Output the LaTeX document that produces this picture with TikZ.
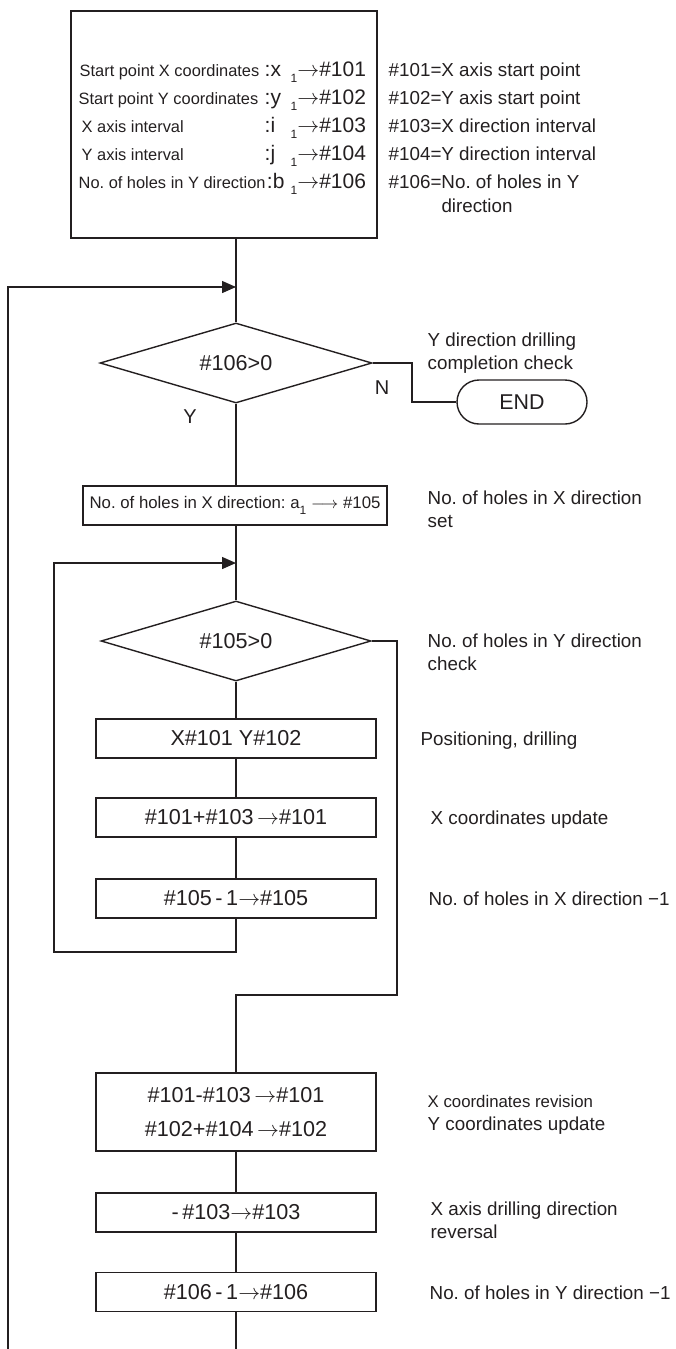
\documentclass[tikz,border=0pt]{standalone}
\usepackage{fontspec}
\setmainfont{Liberation Sans}
\usetikzlibrary{shapes.geometric,arrows.meta}
\definecolor{ink}{RGB}{35,31,32}
\newcommand\subone{\raisebox{-0.6ex}{\fontsize{6}{6}\selectfont 1}}
\newcommand\ra{$\rightarrow$}
\frenchspacing
\begin{document}
\begin{tikzpicture}[x=0.5pt,y=-0.5pt,line width=0.7pt,draw=ink,text=ink,
  box/.style={draw,rectangle,inner sep=0pt,minimum width=140pt,minimum height=19.5pt,font=\fontsize{10.8}{17}\selectfont,align=center},
  dec/.style={draw,diamond,aspect=3.4,inner sep=0pt,minimum width=136pt,minimum height=40pt,font=\fontsize{10.8}{13}\selectfont},
  tl/.style={anchor=base west,inner sep=0pt,font=\fontsize{8.2}{10}\selectfont},
  tv/.style={anchor=base west,inner sep=0pt,font=\fontsize{10.5}{12}\selectfont},
  tr/.style={anchor=base west,inner sep=0pt,font=\fontsize{9.4}{11}\selectfont},
  yn/.style={inner sep=0pt,font=\fontsize{10}{12}\selectfont},
  arr/.style={-{Triangle[length=7pt,width=6pt]}}]
\useasboundingbox (0,0) rectangle (675,1349);

% initial settings box
\node[box,minimum width=153pt,minimum height=113.5pt] (init) at (224,124.5) {};
\node[tl] (l1) at (79,76) {Start point X coordinates};
\node[tl] (l2) at (78,104) {Start point Y coordinates};
\node[tl] (l3) at (81,132) {X axis interval};
\node[tl] (l4) at (81,160) {Y axis interval};
\node[tl] (l5) at (78,188) {No. of holes in Y direction};
\node[tv] (c1) at (264,76) {:x};
\node[tv] (c2) at (264,104) {:y};
\node[tv] (c3) at (264,132) {:i};
\node[tv] (c4) at (264,160) {:j};
\node[tv] (c5) at (l5.base east) {:b};
\node[tv] (v1) at (290,76) {\subone\ra\#101};
\node[tv] (v2) at (290,104) {\subone\ra\#102};
\node[tv] (v3) at (290,132) {\subone\ra\#103};
\node[tv] (v4) at (290,160) {\subone\ra\#104};
\node[tv] (v5) at (290,188) {\subone\ra\#106};
\node[tr] (r1) at (388,76) {\#101=X axis start point};
\node[tr] (r2) at (388,104) {\#102=Y axis start point};
\node[tr] (r3) at (388,132) {\#103=X direction interval};
\node[tr] (r4) at (388,160) {\#104=Y direction interval};
\node[tr] (r5) at (388,188) {\#106=No. of holes in Y};
\node[tr] (r6) at (388,212) {\hphantom{\#106=}direction};

% flow nodes
\node[dec] (d1) at (236,363) {\#106>0};
\node[draw,rounded corners=11pt,minimum width=65pt,minimum height=22pt,inner sep=0pt,font=\fontsize{10.7}{13}\selectfont] (end) at (522,402) {END};
\node[box,minimum width=152pt,font=\fontsize{8.4}{10}\selectfont] (setx) at (235,505.5) {No. of holes in X direction: a\subone{} $\longrightarrow$ \#105};
\node[dec,minimum width=135pt] (d2) at (236,641) {\#105>0};
\node[box] (pos) at (236,738.5) {X\#101 Y\#102};
\node[box] (upd) at (236,817.5) {\#101+\#103\,\ra\#101};
\node[box] (dec5) at (236,898.5) {\#105\,-\,1\ra\#105};
\node[box,minimum height=39pt] (rev) at (236,1112) {\#101-\#103\,\ra\#101\\\#102+\#104\,\ra\#102};
\node[box] (neg) at (236,1212.5) {-\,\#103\ra\#103};
\node[box] (dec6) at (236,1292) {\#106\,-\,1\ra\#106};

% branch labels
\node[yn] (nlab) at (382,388) {N};
\node[yn] (ylab) at (190,417) {Y};

% comments on the right
\node[tr] (t1) at (427,346) {Y direction drilling};
\node[tr] (t2) at (427,369) {completion check};
\node[tr] (t3) at (427,504) {No. of holes in X direction};
\node[tr] (t4) at (427,527) {set};
\node[tr] (t5) at (427,647) {No. of holes in Y direction};
\node[tr] (t6) at (427,670) {check};
\node[tr] (t7) at (420,745) {Positioning, drilling};
\node[tr] (t8) at (430,824) {X coordinates update};
\node[tr] (t9) at (428,905) {No. of holes in X direction −1};
\node[tr,font=\fontsize{8.4}{10}\selectfont] (t10) at (427,1107) {X coordinates revision};
\node[tr] (t11) at (427,1130) {Y coordinates update};
\node[tr] (t12) at (430,1215) {X axis drilling direction};
\node[tr] (t13) at (430,1238) {reversal};
\node[tr] (t14) at (429,1299) {No. of holes in Y direction −1};

% helper coordinates
\coordinate (j1) at (236,287);
\coordinate (j2) at (236,563);
\coordinate (o1) at (8,1349);
\coordinate (o2) at (236,1349);
\coordinate (nb) at (412,363);
\coordinate (i1) at (54,952);
\coordinate (rb) at (397,995);

% connectors
\draw (init.south -| d1.north) -- (d1.north);
\draw[arr] (o1) |- (j1);
\draw (d1.east) -- (nb) |- (end.west);
\draw (d1.south) -- (setx.north -| d1.south);
\draw (setx.south -| d2.north) -- (d2.north);
\draw[arr] (dec5.south) |- (i1) |- (j2);
\draw (d2.south) -- (pos.north);
\draw (pos.south) -- (upd.north);
\draw (upd.south) -- (dec5.north);
\draw (d2.east) -| (rb) -| (rev.north);
\draw (rev.south) -- (neg.north);
\draw (neg.south) -- (dec6.north);
\draw (dec6.south) -- (o2);
\end{tikzpicture}
\end{document}
